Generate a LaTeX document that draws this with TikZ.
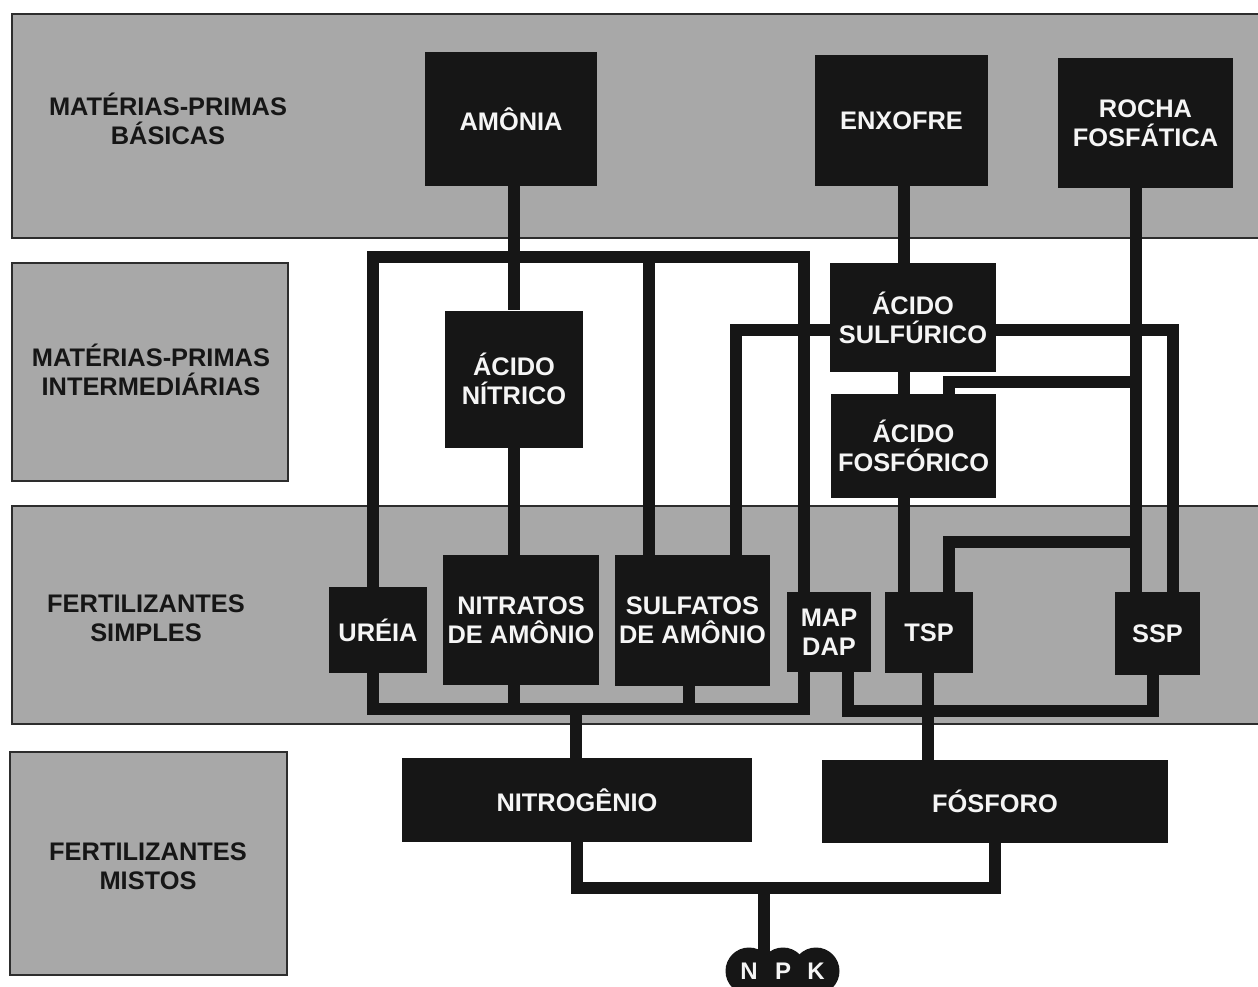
\documentclass[tikz,border=0pt]{standalone}
\usepackage{fontspec}
\setmainfont{Liberation Sans}
\definecolor{band}{RGB}{168,168,168}
\definecolor{ink}{RGB}{22,22,22}
\definecolor{bandline}{RGB}{45,45,45}
\definecolor{paper}{RGB}{245,245,245}
\pgfdeclarelayer{bandlayer}
\pgfdeclarelayer{wirelayer}
\pgfsetlayers{bandlayer,wirelayer,main}
\begin{document}
\begin{tikzpicture}[x=0.5pt,y=-0.5pt,
  blk/.style={fill=ink, text=paper, inner sep=0pt, align=center,
              font=\fontsize{12.7}{14.5}\selectfont\bfseries},
  lbl/.style={text=ink, inner sep=0pt, align=center,
              font=\fontsize{12.7}{14.5}\selectfont\bfseries},
  bandbox/.style={fill=band, draw=bandline, line width=1pt},
  wire/.style={draw=ink, line width=6pt, line join=miter},
  dot/.style={circle, fill=ink, text=paper, inner sep=0pt, minimum size=23.5pt,
              font=\fontsize{12}{13}\selectfont\bfseries},
]
\useasboundingbox (0,0) rectangle (1258,986);
\begin{pgfonlayer}{bandlayer}
\fill[white] (0,0) rectangle (1258,986);
\clip (0,0) rectangle (1258,986);
\path[bandbox] (12,14) rectangle (1275,238);
\path[bandbox] (12,263) rectangle (288,481);
\path[bandbox] (12,506) rectangle (1275,724);
\path[bandbox] (10,752) rectangle (287,975);
\end{pgfonlayer}

% band labels
\node[lbl] (lab1) at (168,119) {MATÉRIAS-PRIMAS\\BÁSICAS};
\node[lbl] (lab2) at (151,370) {MATÉRIAS-PRIMAS\\INTERMEDIÁRIAS};
\node[lbl] (lab3) at (146,618) {FERTILIZANTES\\SIMPLES};
\node[lbl] (lab4) at (148,866) {FERTILIZANTES\\MISTOS};

% boxes
\node[blk, minimum width=86pt, minimum height=67pt] (amonia) at (511,119) {AMÔNIA};
\node[blk, minimum width=86.5pt, minimum height=65.5pt] (enxofre) at (901.5,120.5) {ENXOFRE};
\node[blk, minimum width=87.5pt, minimum height=65pt] (rocha) at (1145.5,123) {ROCHA\\FOSFÁTICA};
\node[blk, minimum width=69pt, minimum height=68.5pt] (nitrico) at (514,379) {ÁCIDO\\NÍTRICO};
\node[blk, minimum width=83pt, minimum height=54.5pt] (sulfurico) at (913,317.5) {ÁCIDO\\SULFÚRICO};
\node[blk, minimum width=82.5pt, minimum height=52pt] (fosforico) at (913.5,446) {ÁCIDO\\FOSFÓRICO};
\node[blk, minimum width=49pt, minimum height=43pt] (ureia) at (378,630) {URÉIA};
\node[blk, minimum width=78pt, minimum height=65pt] (nitratos) at (521,620) {NITRATOS\\DE AMÔNIO};
\node[blk, minimum width=77.5pt, minimum height=65.5pt] (sulfatos) at (692.5,620.5) {SULFATOS\\DE AMÔNIO};
\node[blk, minimum width=42pt, minimum height=40pt] (mapdap) at (829,632) {MAP\\DAP};
\node[blk, minimum width=44pt, minimum height=40.5pt] (tsp) at (929,632.5) {TSP};
\node[blk, minimum width=42.5pt, minimum height=41.5pt] (ssp) at (1157.5,633.5) {SSP};
\node[blk, minimum width=175pt, minimum height=42pt] (nitrogenio) at (577,800) {NITROGÊNIO};
\node[blk, minimum width=173pt, minimum height=41.5pt] (fosforo) at (995,801.5) {FÓSFORO};

% N P K
\node[dot] (npkN) at (749,971) {N};
\node[dot] (npkP) at (783,971) {P};
\node[dot] (npkK) at (816,971) {K};

% junction coordinates
\coordinate (nTL) at (373,257);
\coordinate (nTR) at (804,257);
\coordinate (nBL) at (373,709);
\coordinate (nBR) at (804,709);
\coordinate (sA) at (649,257);
\coordinate (sB) at (689,709);
\coordinate (hS) at (736,330);
\coordinate (hE) at (1173,330);
\coordinate (cE) at (904,0);
\coordinate (cR) at (1136,0);
\coordinate (b1) at (949,382);
\coordinate (b2) at (949,542);
\coordinate (r1) at (848,711);
\coordinate (r2) at (1153,711);
\coordinate (cT) at (928,0);
\coordinate (cN) at (576,709);
\coordinate (m1) at (577,888);
\coordinate (m2) at (995,888);
\coordinate (cK) at (764,888);

\begin{pgfonlayer}{wirelayer}
% nitrogen bus
\draw[wire] (ureia.north -| nTL) -- (nTL) -- (nTR) -- (mapdap.north -| nTR);
\draw[wire] (ureia.south -| nBL) -- (nBL) -- (nBR) -- (mapdap.south -| nBR);
\draw[wire] (amonia.south -| nitrico) -- (nitrico.north);
\draw[wire] (nitrico.south) -- (nitrico.south |- nitratos.north);
\draw[wire] (nitratos.south -| nitrico) -- (nBL -| nitrico);
\draw[wire] (sA) -- (sA |- sulfatos.north);
\draw[wire] (sB |- sulfatos.south) -- (sB);
% sulphuric acid branches
\draw[wire] (sulfurico.west |- hS) -- (hS) -- (sulfatos.north -| hS);
\draw[wire] (sulfurico.east |- hE) -- (hE) -- (ssp.north -| hE);
% sulphur column
\draw[wire] (enxofre.south -| cE) -- (sulfurico.north -| cE);
\draw[wire] (sulfurico.south -| cE) -- (fosforico.north -| cE);
\draw[wire] (fosforico.south -| cE) -- (tsp.north -| cE);
% phosphate rock column
\draw[wire] (rocha.south -| cR) -- (ssp.north -| cR);
\draw[wire] (b1 -| cR) -- (b1) -- (fosforico.north -| b1);
\draw[wire] (b2 -| cR) -- (b2) -- (tsp.north -| b2);
% phosphorus bus
\draw[wire] (mapdap.south -| r1) -- (r1) -- (r2) -- (ssp.south -| r2);
\draw[wire] (tsp.south -| cT) -- (fosforo.north -| cT);
% to mixed fertilisers
\draw[wire] (cN) -- (nitrogenio.north -| cN);
\draw[wire] (nitrogenio.south -| m1) -- (m1) -- (m2) -- (fosforo.south -| m2);
\draw[wire] (cK) -- (cK |- npkN.center);
\end{pgfonlayer}
\end{tikzpicture}
\end{document}
